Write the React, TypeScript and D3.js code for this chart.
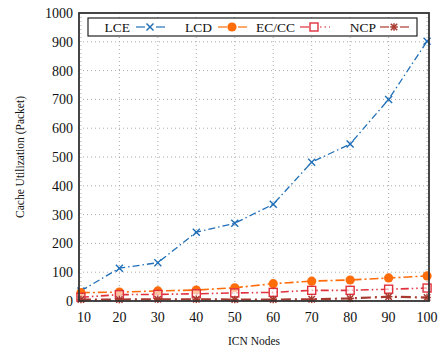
import React from "react";
import * as d3 from "d3";

const nodes = [10, 20, 30, 40, 50, 60, 70, 80, 90, 100];
const lce = [35, 114, 133, 239, 270, 336, 482, 545, 700, 902];
const lcd = [29, 31, 35, 38, 46, 60, 69, 73, 80, 87];
const eccc = [13, 22, 23, 25, 28, 30, 37, 37, 41, 45];
const ncp = [5, 5, 6, 6, 5, 5, 6, 9, 15, 12];
const yTicks = [0, 100, 200, 300, 400, 500, 600, 700, 800, 900, 1000];
const xTicks = [10, 20, 30, 40, 50, 60, 70, 80, 90, 100];
const seriesNames = ["LCE", "LCD", "EC/CC", "NCP"];

const W = 446, H = 352;
const L = 79, R = 429, T = 13, B = 301;
const font = "Liberation Serif, Times New Roman, serif";

function Marker({ kind, x, y, color }: { kind: string; x: number; y: number; color: string }) {
  if (kind === "x") {
    const s = 3.5;
    return (
      <g stroke={color} strokeWidth={1.4}>
        <line x1={x - s} y1={y - s} x2={x + s} y2={y + s} />
        <line x1={x - s} y1={y + s} x2={x + s} y2={y - s} />
      </g>
    );
  }
  if (kind === "dot") return <circle cx={x} cy={y} r={4.6} fill={color} />;
  if (kind === "sq") return <rect x={x - 4} y={y - 4} width={8} height={8} fill="white" fillOpacity={0.6} stroke={color} strokeWidth={1.4} />;
  const s = 3.2;
  return (
    <g stroke={color} strokeWidth={1.5}>
      <line x1={x - s} y1={y - s} x2={x + s} y2={y + s} />
      <line x1={x - s} y1={y + s} x2={x + s} y2={y - s} />
      <line x1={x - s - 0.6} y1={y} x2={x + s + 0.6} y2={y} />
      <line x1={x} y1={y - s - 0.6} x2={x} y2={y + s + 0.6} />
    </g>
  );
}

export default function App() {
  const x = d3.scaleLinear().domain([9.5, 100.5]).range([L, R]);
  const y = d3.scaleLinear().domain([0, 1000]).range([B, T]);
  const series = [
    { name: seriesNames[0], vals: lce, color: "#1f6fb8", dash: "7,3,1.5,3", sw: 1.3, m: "x" },
    { name: seriesNames[1], vals: lcd, color: "#ff6d0a", dash: "9,3,2,3", sw: 1.6, m: "dot" },
    { name: seriesNames[2], vals: eccc, color: "#e0303c", dash: "8,3,1.5,3,1.5,3", sw: 1.6, m: "sq" },
    { name: seriesNames[3], vals: ncp, color: "#a8392f", dash: "10,4,2,4", sw: 2.2, m: "ast" },
  ];
  const line = d3.line<number>().x((_, i) => x(nodes[i])).y((d) => y(d));
  const legendPos = [
    { tx: 130, lx: 136 },
    { tx: 212, lx: 218 },
    { tx: 295, lx: 300 },
    { tx: 376, lx: 380 },
  ];
  const LY = 27;
  return (
    <svg width={W} height={H} style={{ position: "absolute", left: 0, top: 0 }} fontFamily={font}>
      <rect width={W} height={H} fill="white" />
      {yTicks.map((t) => (
        <line key={"gy" + t} x1={L} x2={R} y1={y(t)} y2={y(t)} stroke="#aaa" strokeWidth={1} strokeDasharray="1,3" />
      ))}
      {xTicks.map((t) => (
        <line key={"gx" + t} x1={x(t)} x2={x(t)} y1={T} y2={B} stroke="#aaa" strokeWidth={1} strokeDasharray="1,3" />
      ))}
      {series.map((s) => (
        <g key={s.name}>
          <path d={line(s.vals) || ""} fill="none" stroke={s.color} strokeWidth={s.sw} strokeDasharray={s.dash} />
          {s.vals.map((v, i) => (
            <Marker key={i} kind={s.m} x={x(nodes[i])} y={y(v)} color={s.color} />
          ))}
        </g>
      ))}
      <rect x={L} y={T} width={R - L} height={B - T} fill="none" stroke="#333" strokeWidth={1.8} />
      {yTicks.map((t) => (
        <text key={"yl" + t} x={L - 6} y={y(t)} dy="0.35em" textAnchor="end" fontSize={14} fill="#111">{t}</text>
      ))}
      {xTicks.map((t) => (
        <text key={"xl" + t} x={x(t) + (t === 10 ? 3 : 0)} y={B + 21} textAnchor="middle" fontSize={14} fill="#111">{t}</text>
      ))}
      <text x={(L + R) / 2} y={345} textAnchor="middle" fontSize={11.5} fill="#111">ICN Nodes</text>
      <text transform={`translate(24,${(T + B) / 2}) rotate(-90)`} textAnchor="middle" fontSize={11.5} fill="#111">Cache Utilization (Packet)</text>
      <rect x={88} y={18} width={329} height={18} fill="white" stroke="#222" strokeWidth={1.2} />
      {series.map((s, i) => {
        const lx = legendPos[i].lx;
        return (
          <g key={"lg" + s.name}>
            <text x={legendPos[i].tx} y={LY} dy="0.35em" textAnchor="end" fontSize={13.5} fill="#111">{s.name}</text>
            <line x1={lx} x2={lx + 9} y1={LY} y2={LY} stroke={s.color} strokeOpacity={0.75} strokeWidth={1.6} />
            {i === 2 ? (
              <line x1={lx + 20} x2={lx + 30} y1={LY} y2={LY} stroke={s.color} strokeOpacity={0.75} strokeWidth={1.6} strokeDasharray="1.5,3" />
            ) : (
              <line x1={lx + 20} x2={lx + 29} y1={LY} y2={LY} stroke={s.color} strokeOpacity={0.75} strokeWidth={1.6} />
            )}
            <Marker kind={s.m} x={lx + 14} y={LY} color={s.color} />
          </g>
        );
      })}
    </svg>
  );
}
